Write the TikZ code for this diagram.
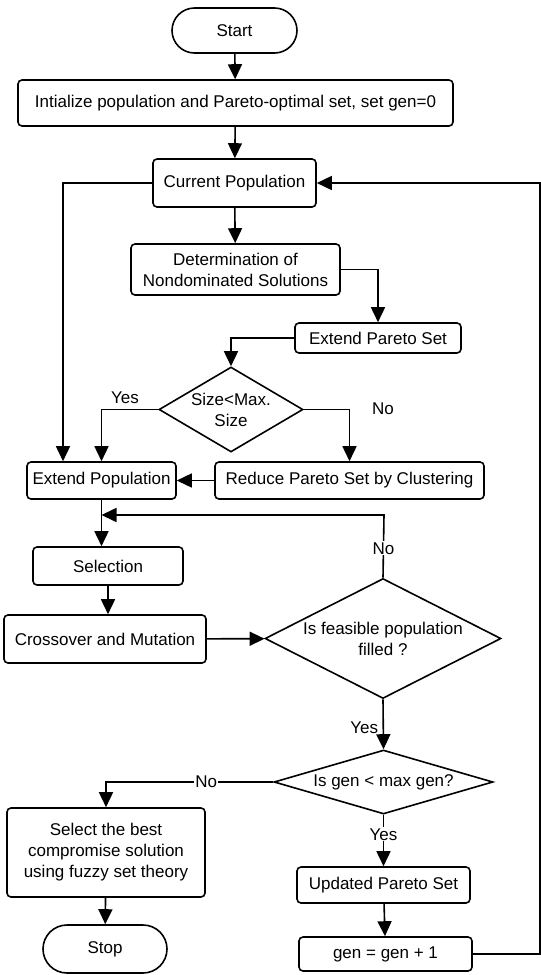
\documentclass[tikz,border=0pt]{standalone}
\usepackage{fontspec}
\setmainfont{Liberation Sans}
\usepackage{tikz}
\usetikzlibrary{arrows.meta,shapes.geometric,shapes.misc}

\begin{document}
\begin{tikzpicture}[x=1pt, y=-1pt, line width=1.6pt, >={Triangle[length=15pt,width=14pt]},
	font=\fontsize{17}{21}\selectfont,
	box/.style={draw, rounded corners=4pt, inner sep=0pt, align=center},
	term/.style={draw, rounded rectangle, inner sep=0pt},
	decide/.style={draw, diamond, inner sep=0pt}]
\useasboundingbox (0,0) rectangle (541,975);
% boxes
\node[term, minimum width=125pt, minimum height=45pt] (start) at (234.5,30.5) {Start};
\node[box, minimum width=435pt, minimum height=46pt] (init) at (235.5,103) {Intialize population and Pareto-optimal set, set gen=0};
\node[box, minimum width=163pt, minimum height=48pt] (cp) at (234.5,183) {Current Population};
\node[box, minimum width=209pt, minimum height=51pt] (det) at (235.5,269.5) {Determination of\\Nondominated Solutions};
\node[box, minimum width=166pt, minimum height=30pt] (eps) at (378,338) {Extend Pareto Set};
\node[decide, minimum width=144pt, minimum height=85pt,
	label={[align=center]center:Size<Max.\\Size}] (d1) at (231,409.5) {};
\node[box, minimum width=149pt, minimum height=37pt] (ep) at (101.5,480.5) {Extend Population};
\node[box, minimum width=269pt, minimum height=37pt] (red) at (349.5,480.5) {Reduce Pareto Set by Clustering};
\node[box, minimum width=150pt, minimum height=38pt] (sel) at (108,566) {Selection};
\node[box, minimum width=202pt, minimum height=48pt] (cm) at (105,639) {Crossover and Mutation};
\node[decide, minimum width=236pt, minimum height=120pt,
	label={[align=center]center:Is feasible population\\filled ?}] (d2) at (383,638.5) {};
\node[decide, minimum width=219pt, minimum height=64pt,
	label={center:Is gen < max gen?}] (d3) at (383.5,782) {};
\node[box, minimum width=198pt, minimum height=89pt] (fuz) at (106,852.5) {Select the best\\compromise solution\\using fuzzy set theory};
\node[term, minimum width=124pt, minimum height=48pt] (stop) at (105,949) {Stop};
\node[box, minimum width=173pt, minimum height=36pt] (upd) at (383.5,885) {Updated Pareto Set};
\node[box, minimum width=173pt, minimum height=34pt] (gen) at (385.5,954) {gen = gen + 1};
\coordinate (lft) at (63,183);
\coordinate (rgtlow) at (540,954);
\coordinate (rgtup) at (540,183);
\coordinate (nojoin) at (384,515);
% connectors
\draw[->] (start) -- (init);
\draw[->] (init) -- (cp);
\draw[->] (cp) -- (det);
\draw[->] (det.east) -| (eps.north);
\draw[->] (eps.west) -| (d1.north);
\draw[->] (cp.west) -- (lft) -- (lft |- ep.north);
\draw[->] (d1.west) -| (ep.north);
\draw[->] (d1.east) -| (red.north);
\draw[->] (red) -- (ep);
\draw[->] (ep.south) -- (ep.south |- sel.north);
\draw[->] (sel.south) -- (sel.south |- cm.north);
\draw[->] (cm) -- (d2);
\draw[->] (d2.north) -- node[pos=0.47, fill=white, inner sep=1pt] {No} (nojoin) -- (nojoin -| ep.south);
\draw[->] (d2.south) -- node[pos=0.56, left=1pt] {Yes} (d3.north);
\draw[->] (d3.west) -| node[pos=0.2, fill=white, inner sep=1pt] {No} (fuz.north);
\draw[->] (d3.south) -- node[pos=0.38, fill=white, inner sep=1pt] {Yes} (upd.north);
\draw[->] (fuz) -- (stop);
\draw[->] (upd) -- (gen);
\draw[->] (gen.east) -- (rgtlow) -- (rgtup) -- (cp.east);
% branch labels
\node (yes1) at (125,398) {Yes};
\node (no1) at (383,409) {No};
\end{tikzpicture}
\end{document}
